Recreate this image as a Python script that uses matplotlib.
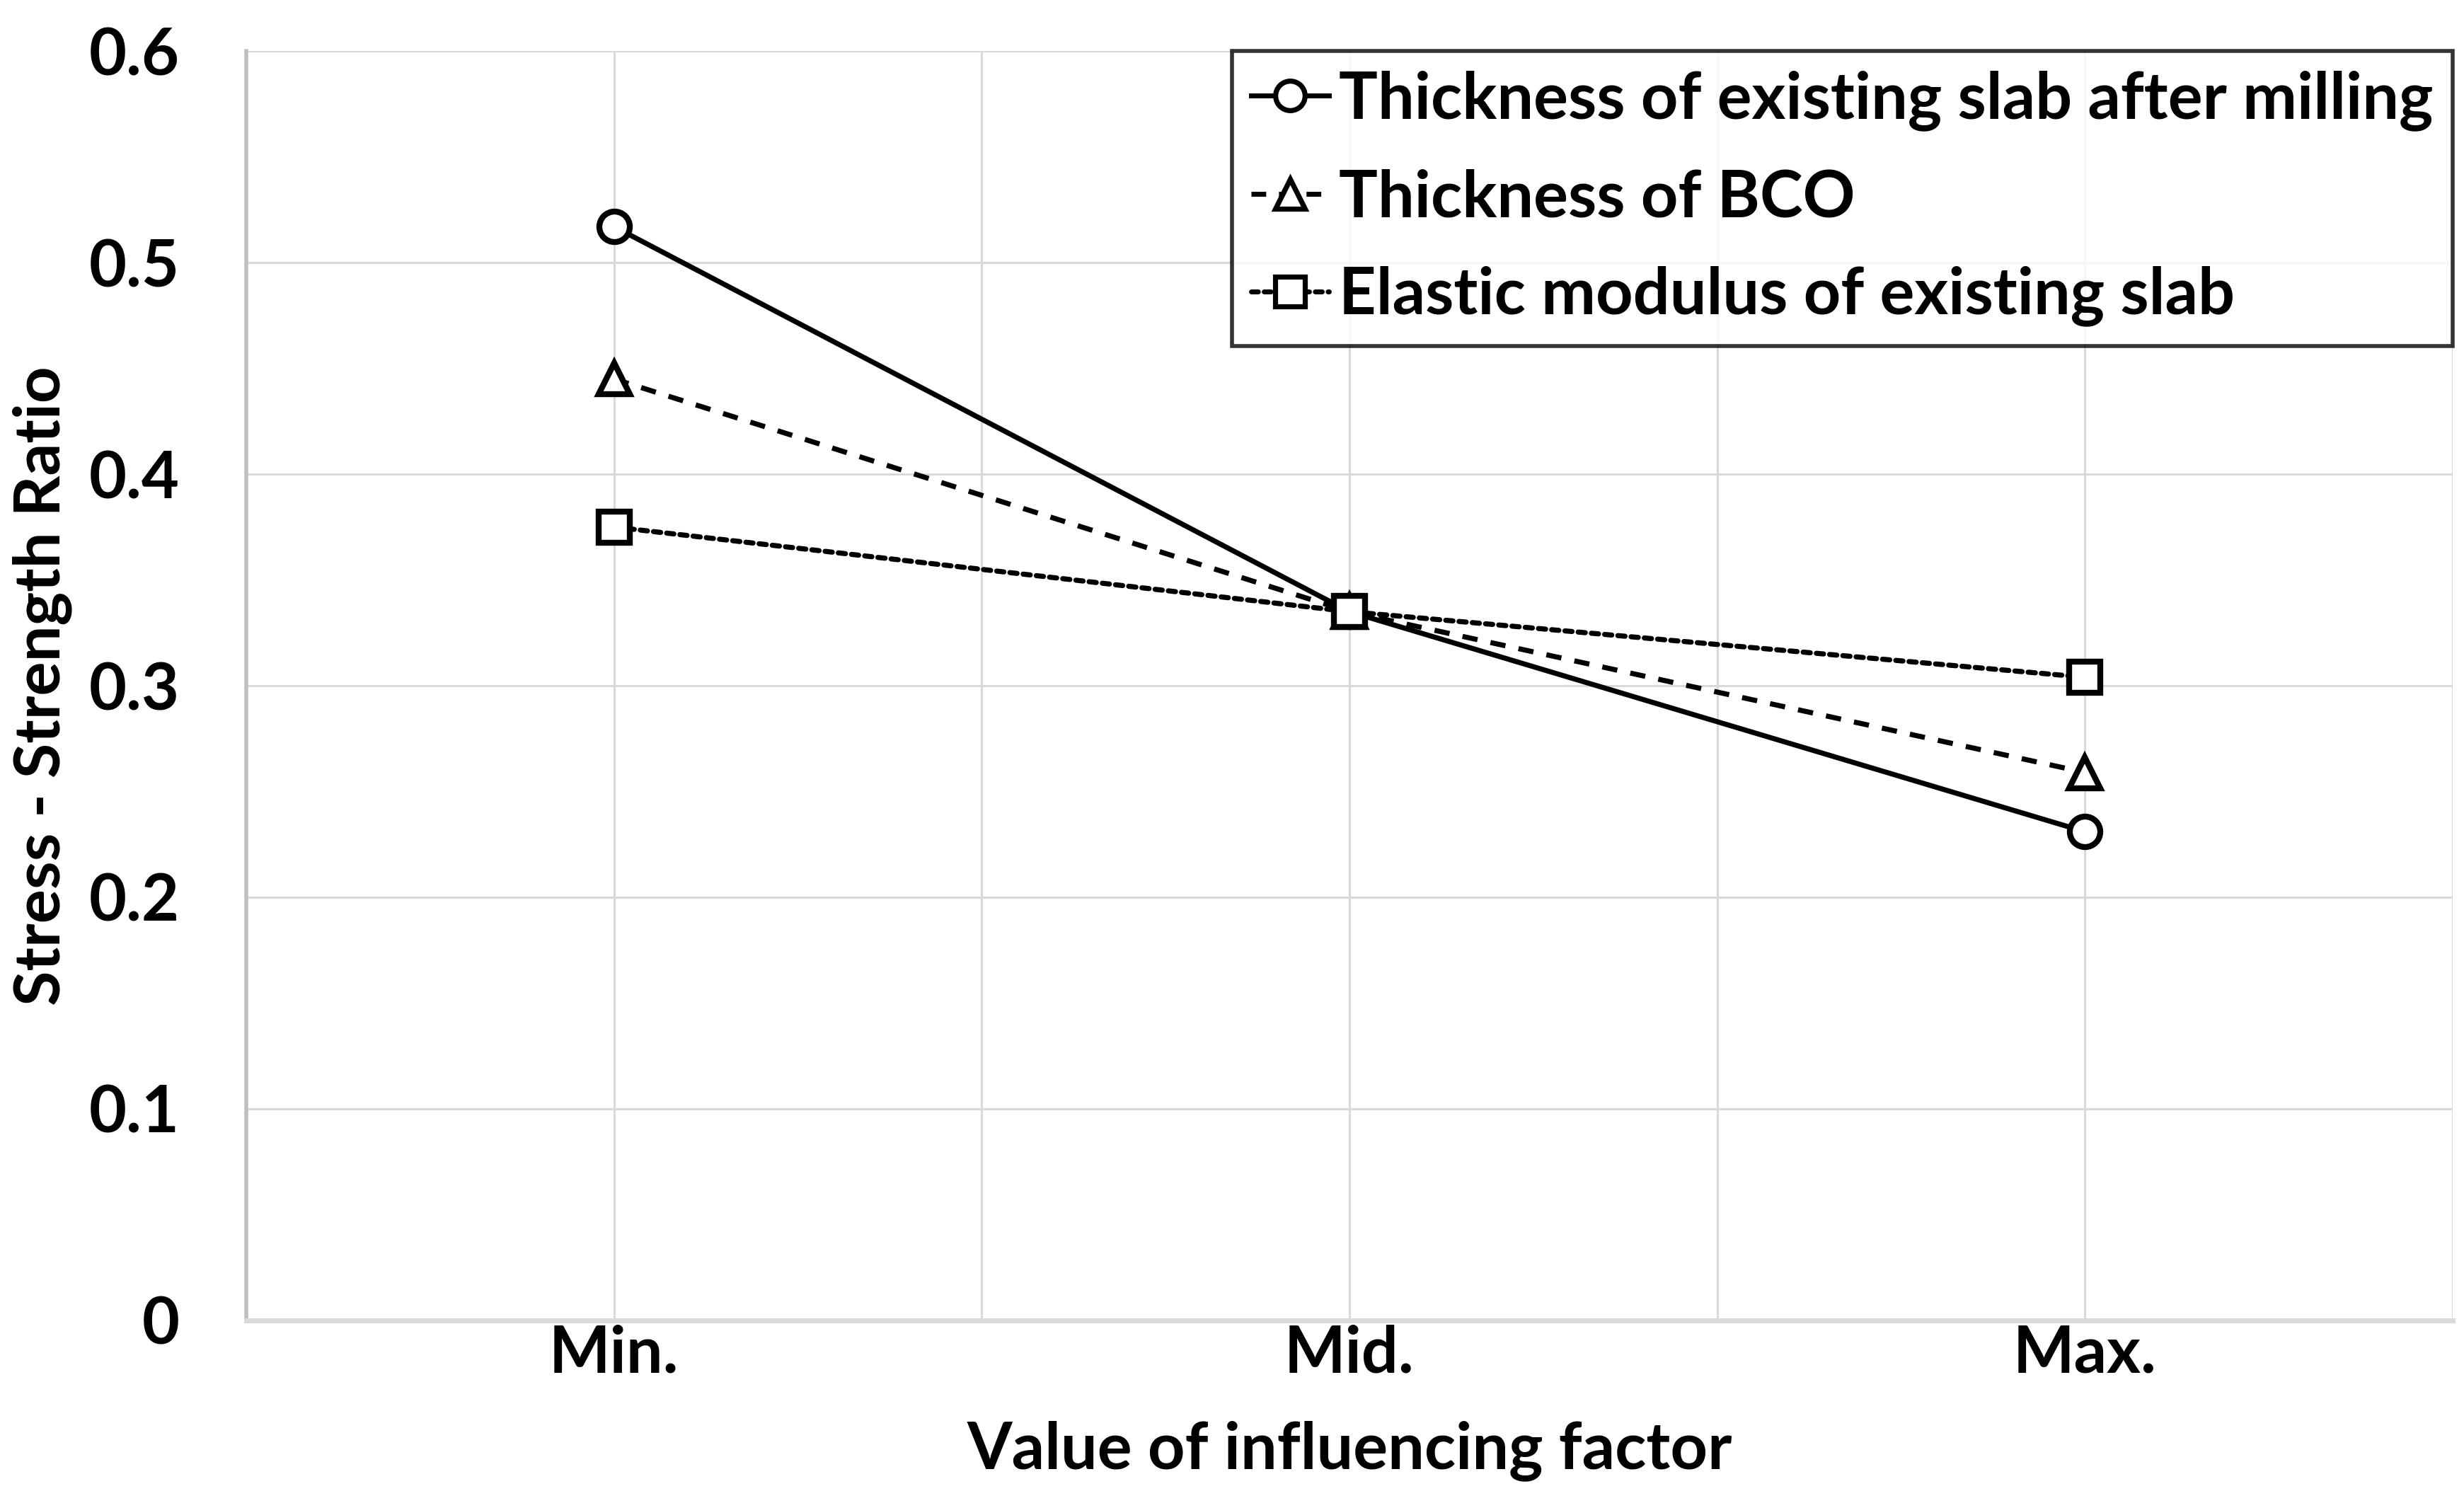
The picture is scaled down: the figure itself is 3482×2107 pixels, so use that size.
import matplotlib.pyplot as plt

# Data
categories = ["Min.", "Mid.", "Max."]
slab_thickness = [0.517, 0.335, 0.231]
bco_thickness = [0.445, 0.335, 0.259]
elastic_modulus = [0.375, 0.335, 0.304]
series_labels = [
    "Thickness of existing slab after milling",
    "Thickness of BCO",
    "Elastic modulus of existing slab",
]

plt.rcParams["font.family"] = ["Lato", "DejaVu Sans"]
plt.rcParams["font.weight"] = "bold"

fig = plt.figure(figsize=(17.41, 10.535), dpi=200)
ax = fig.add_axes([0.0999, 0.1144, 0.8955, 0.8514])

x = list(range(len(categories)))
common = dict(color="black", lw=2.6, markersize=15.5, markerfacecolor="white",
              markeredgecolor="black", markeredgewidth=3)

ax.plot(x, slab_thickness, marker="o", linestyle="-", label=series_labels[0], **common)
ax.plot(x, bco_thickness, marker="^", linestyle=(0, (3, 2.6)), label=series_labels[1], **common)
ax.plot(x, elastic_modulus, marker="s", linestyle=(0, (1.4, 1.2)), label=series_labels[2],
        dash_capstyle="round", **common)

ax.set_xlim(-0.5, 2.5)
ax.set_ylim(0, 0.6)
ax.set_xticks(x)
ax.set_xticklabels(categories)
ax.set_xticks([-0.5, 0.5, 1.5, 2.5], minor=True)
ax.set_yticks([0, 0.1, 0.2, 0.3, 0.4, 0.5, 0.6])
ax.set_yticklabels(["0", "0.1", "0.2", "0.3", "0.4", "0.5", "0.6"])

ax.grid(True, which="both", color="#d9d9d9", lw=1.1)
ax.set_axisbelow(True)
ax.tick_params(which="both", length=0)
ax.tick_params(axis="y", labelsize=33, pad=34)
ax.tick_params(axis="x", labelsize=33, pad=2)

for side in ["top", "right"]:
    ax.spines[side].set_visible(False)
ax.spines["left"].set_color("#bfbfbf")
ax.spines["left"].set_linewidth(2)
ax.spines["bottom"].set_color("#d9d9d9")
ax.spines["bottom"].set_linewidth(2.5)

ax.set_ylabel("Stress - Strength Ratio", fontsize=32.5, fontweight="bold")
ax.yaxis.set_label_coords(-0.079, 0.5)
ax.set_xlabel("Value of influencing factor", fontsize=33, fontweight="bold")
ax.xaxis.set_label_coords(0.5, -0.079)

leg = ax.legend(loc="upper right", bbox_to_anchor=(1.0, 1.0), fontsize=33,
                frameon=True, fancybox=False, edgecolor="black",
                handlelength=1.2, handletextpad=0.15, labelspacing=0.58,
                borderpad=0.3, borderaxespad=0)
leg.get_frame().set_linewidth(2)
for h in leg.legend_handles:
    h.set_markersize(15)
    h.set_markeredgewidth(2.6)
    h.set_linewidth(2.5)

fig.savefig("out.png", dpi=200, facecolor="white")
